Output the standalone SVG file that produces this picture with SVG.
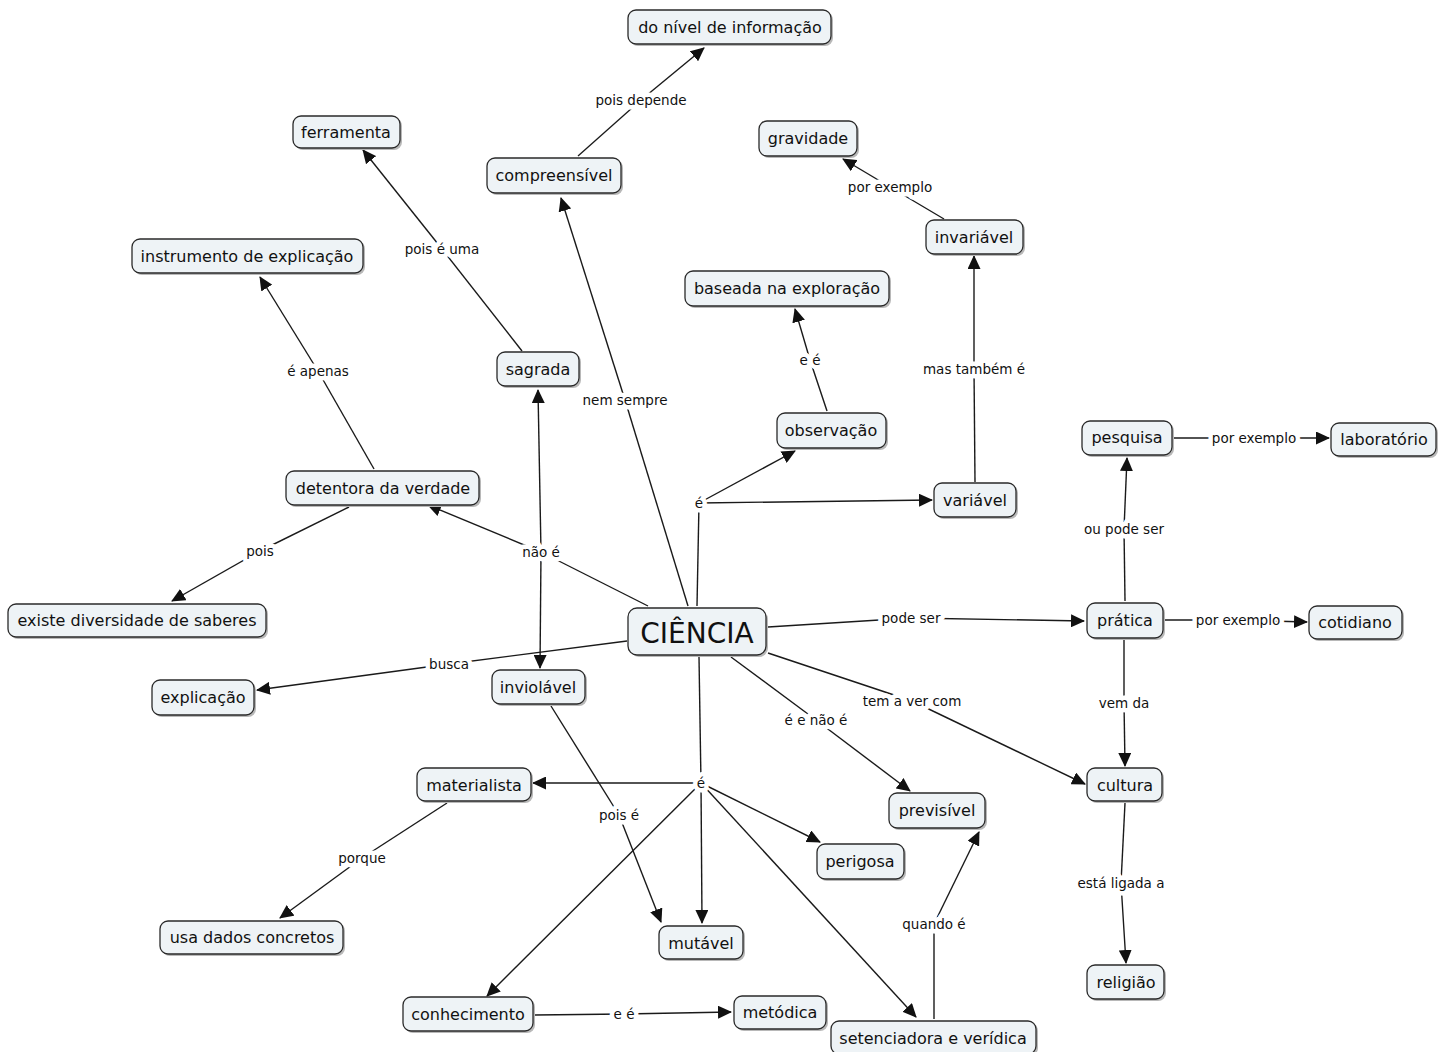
<svg xmlns="http://www.w3.org/2000/svg" width="1449" height="1052" viewBox="0 0 1449 1052">
<style>
.n rect.b{fill:#eef3f6;stroke:#2a2a2a;stroke-width:1.3}
.n rect.s{fill:#b8b8b8}
.n text{font-family:"DejaVu Sans",Verdana,sans-serif;font-size:16px;fill:#111;text-anchor:middle;dominant-baseline:central}
#ciencia text{font-size:28px}
.c line,.c polyline{stroke:#1a1a1a;stroke-width:1.4;fill:none}
.l{font-family:"DejaVu Sans",Verdana,sans-serif;font-size:13.5px;fill:#111;text-anchor:middle;dominant-baseline:central;stroke:#fff;stroke-width:9;paint-order:stroke;stroke-linejoin:round}
</style>
<defs>
<marker id="a" markerUnits="userSpaceOnUse" markerWidth="14" markerHeight="13" refX="13" refY="6.5" orient="auto">
<path d="M0,0 L14,6.5 L0,13 Z" fill="#111"/>
</marker>
</defs>
<rect width="1449" height="1052" fill="#fff"/>
<g class="c">
<line x1="688" y1="606" x2="625" y2="400"/>
<line x1="625" y1="400" x2="561" y2="198" marker-end="url(#a)"/>
<line x1="578" y1="156" x2="641" y2="100"/>
<line x1="641" y1="100" x2="704" y2="48" marker-end="url(#a)"/>
<line x1="522" y1="351" x2="442" y2="249"/>
<line x1="442" y1="249" x2="363" y2="150" marker-end="url(#a)"/>
<line x1="374" y1="469" x2="318" y2="371"/>
<line x1="318" y1="371" x2="260" y2="277" marker-end="url(#a)"/>
<line x1="349" y1="507" x2="260" y2="551"/>
<line x1="260" y1="551" x2="172" y2="601" marker-end="url(#a)"/>
<line x1="648" y1="606" x2="541" y2="552"/>
<line x1="541" y1="552" x2="428" y2="505" marker-end="url(#a)"/>
<line x1="541" y1="552" x2="538" y2="390" marker-end="url(#a)"/>
<line x1="541" y1="552" x2="540" y2="668" marker-end="url(#a)"/>
<line x1="627" y1="641" x2="449" y2="664"/>
<line x1="449" y1="664" x2="257" y2="690" marker-end="url(#a)"/>
<line x1="697" y1="606" x2="699" y2="503"/>
<line x1="699" y1="503" x2="795" y2="451" marker-end="url(#a)"/>
<line x1="699" y1="503" x2="932" y2="500" marker-end="url(#a)"/>
<line x1="827" y1="411" x2="810" y2="360"/>
<line x1="810" y1="360" x2="795" y2="309" marker-end="url(#a)"/>
<line x1="975" y1="482" x2="974" y2="369"/>
<line x1="974" y1="369" x2="974" y2="256" marker-end="url(#a)"/>
<line x1="944" y1="219" x2="890" y2="187"/>
<line x1="890" y1="187" x2="843" y2="159" marker-end="url(#a)"/>
<line x1="768" y1="627" x2="911" y2="618"/>
<line x1="911" y1="618" x2="1084" y2="621" marker-end="url(#a)"/>
<line x1="1125" y1="601" x2="1124" y2="529"/>
<line x1="1124" y1="529" x2="1127" y2="458" marker-end="url(#a)"/>
<line x1="1174" y1="438" x2="1254" y2="438"/>
<line x1="1254" y1="438" x2="1329" y2="438" marker-end="url(#a)"/>
<line x1="1165" y1="620" x2="1238" y2="620"/>
<line x1="1238" y1="620" x2="1307" y2="622" marker-end="url(#a)"/>
<line x1="1124" y1="640" x2="1124" y2="703"/>
<line x1="1124" y1="703" x2="1125" y2="766" marker-end="url(#a)"/>
<line x1="768" y1="653" x2="912" y2="701"/>
<line x1="912" y1="701" x2="1085" y2="784" marker-end="url(#a)"/>
<line x1="1125" y1="803" x2="1121" y2="883"/>
<line x1="1121" y1="883" x2="1126" y2="963" marker-end="url(#a)"/>
<line x1="731" y1="657" x2="816" y2="720"/>
<line x1="816" y1="720" x2="910" y2="791" marker-end="url(#a)"/>
<line x1="934" y1="1019" x2="934" y2="924"/>
<line x1="934" y1="924" x2="979" y2="832" marker-end="url(#a)"/>
<line x1="551" y1="706" x2="619" y2="815"/>
<line x1="619" y1="815" x2="661" y2="922" marker-end="url(#a)"/>
<line x1="699" y1="657" x2="701" y2="783"/>
<line x1="701" y1="783" x2="533" y2="783" marker-end="url(#a)"/>
<line x1="701" y1="783" x2="820" y2="842" marker-end="url(#a)"/>
<line x1="701" y1="783" x2="702" y2="923" marker-end="url(#a)"/>
<line x1="701" y1="783" x2="487" y2="996" marker-end="url(#a)"/>
<line x1="701" y1="783" x2="916" y2="1017" marker-end="url(#a)"/>
<line x1="447" y1="803" x2="362" y2="858"/>
<line x1="362" y1="858" x2="280" y2="918" marker-end="url(#a)"/>
<line x1="535" y1="1015" x2="624" y2="1014"/>
<line x1="624" y1="1014" x2="731" y2="1012" marker-end="url(#a)"/>
</g>
<g id="labels">
<text class="l" x="625" y="400">nem sempre</text>
<text class="l" x="641" y="100">pois depende</text>
<text class="l" x="442" y="249">pois é uma</text>
<text class="l" x="318" y="371">é apenas</text>
<text class="l" x="260" y="551">pois</text>
<text class="l" x="541" y="552">não é</text>
<text class="l" x="449" y="664">busca</text>
<text class="l" x="699" y="503">é</text>
<text class="l" x="810" y="360">e é</text>
<text class="l" x="974" y="369">mas também é</text>
<text class="l" x="890" y="187">por exemplo</text>
<text class="l" x="911" y="618">pode ser</text>
<text class="l" x="1124" y="529">ou pode ser</text>
<text class="l" x="1254" y="438">por exemplo</text>
<text class="l" x="1238" y="620">por exemplo</text>
<text class="l" x="1124" y="703">vem da</text>
<text class="l" x="912" y="701">tem a ver com</text>
<text class="l" x="1121" y="883">está ligada a</text>
<text class="l" x="816" y="720">é e não é</text>
<text class="l" x="934" y="924">quando é</text>
<text class="l" x="619" y="815">pois é</text>
<text class="l" x="701" y="783">é</text>
<text class="l" x="362" y="858">porque</text>
<text class="l" x="624" y="1014">e é</text>
</g>
<g id="nivel" class="n"><rect class="s" x="630" y="12" width="203" height="34" rx="8"/><rect class="b" x="628" y="10" width="203" height="34" rx="8"/><text x="730" y="27">do nível de informação</text></g>
<g id="ferramenta" class="n"><rect class="s" x="295" y="118" width="107" height="32" rx="8"/><rect class="b" x="293" y="116" width="107" height="32" rx="8"/><text x="346" y="132">ferramenta</text></g>
<g id="compreensivel" class="n"><rect class="s" x="489" y="160" width="134" height="35" rx="8"/><rect class="b" x="487" y="158" width="134" height="35" rx="8"/><text x="554" y="175">compreensível</text></g>
<g id="gravidade" class="n"><rect class="s" x="761" y="123" width="98" height="35" rx="8"/><rect class="b" x="759" y="121" width="98" height="35" rx="8"/><text x="808" y="138">gravidade</text></g>
<g id="invariavel" class="n"><rect class="s" x="928" y="222" width="97" height="34" rx="8"/><rect class="b" x="926" y="220" width="97" height="34" rx="8"/><text x="974" y="237">invariável</text></g>
<g id="instrumento" class="n"><rect class="s" x="134" y="241" width="231" height="34" rx="8"/><rect class="b" x="132" y="239" width="231" height="34" rx="8"/><text x="247" y="256">instrumento de explicação</text></g>
<g id="baseada" class="n"><rect class="s" x="687" y="273" width="204" height="35" rx="8"/><rect class="b" x="685" y="271" width="204" height="35" rx="8"/><text x="787" y="288">baseada na exploração</text></g>
<g id="sagrada" class="n"><rect class="s" x="499" y="354" width="82" height="34" rx="8"/><rect class="b" x="497" y="352" width="82" height="34" rx="8"/><text x="538" y="369">sagrada</text></g>
<g id="observacao" class="n"><rect class="s" x="779" y="415" width="109" height="35" rx="8"/><rect class="b" x="777" y="413" width="109" height="35" rx="8"/><text x="831" y="430">observação</text></g>
<g id="pesquisa" class="n"><rect class="s" x="1084" y="423" width="90" height="34" rx="8"/><rect class="b" x="1082" y="421" width="90" height="34" rx="8"/><text x="1127" y="437">pesquisa</text></g>
<g id="laboratorio" class="n"><rect class="s" x="1333" y="425" width="105" height="33" rx="8"/><rect class="b" x="1331" y="423" width="105" height="33" rx="8"/><text x="1384" y="439">laboratório</text></g>
<g id="detentora" class="n"><rect class="s" x="288" y="473" width="193" height="34" rx="8"/><rect class="b" x="286" y="471" width="193" height="34" rx="8"/><text x="383" y="488">detentora da verdade</text></g>
<g id="variavel" class="n"><rect class="s" x="936" y="485" width="82" height="34" rx="8"/><rect class="b" x="934" y="483" width="82" height="34" rx="8"/><text x="975" y="500">variável</text></g>
<g id="existe" class="n"><rect class="s" x="10" y="606" width="258" height="33" rx="8"/><rect class="b" x="8" y="604" width="258" height="33" rx="8"/><text x="137" y="620">existe diversidade de saberes</text></g>
<g id="ciencia" class="n"><rect class="s" x="630" y="610" width="138" height="47" rx="9"/><rect class="b" x="628" y="608" width="138" height="47" rx="9"/><text x="697" y="633">CIÊNCIA</text></g>
<g id="pratica" class="n"><rect class="s" x="1089" y="605" width="76" height="35" rx="8"/><rect class="b" x="1087" y="603" width="76" height="35" rx="8"/><text x="1125" y="620">prática</text></g>
<g id="cotidiano" class="n"><rect class="s" x="1311" y="608" width="93" height="33" rx="8"/><rect class="b" x="1309" y="606" width="93" height="33" rx="8"/><text x="1355" y="622">cotidiano</text></g>
<g id="explicacao" class="n"><rect class="s" x="154" y="682" width="102" height="35" rx="8"/><rect class="b" x="152" y="680" width="102" height="35" rx="8"/><text x="203" y="697">explicação</text></g>
<g id="inviolavel" class="n"><rect class="s" x="494" y="672" width="93" height="34" rx="8"/><rect class="b" x="492" y="670" width="93" height="34" rx="8"/><text x="538" y="687">inviolável</text></g>
<g id="materialista" class="n"><rect class="s" x="419" y="770" width="114" height="33" rx="8"/><rect class="b" x="417" y="768" width="114" height="33" rx="8"/><text x="474" y="785">materialista</text></g>
<g id="previsivel" class="n"><rect class="s" x="891" y="795" width="96" height="35" rx="8"/><rect class="b" x="889" y="793" width="96" height="35" rx="8"/><text x="937" y="810">previsível</text></g>
<g id="cultura" class="n"><rect class="s" x="1089" y="770" width="75" height="33" rx="8"/><rect class="b" x="1087" y="768" width="75" height="33" rx="8"/><text x="1125" y="785">cultura</text></g>
<g id="perigosa" class="n"><rect class="s" x="819" y="846" width="87" height="35" rx="8"/><rect class="b" x="817" y="844" width="87" height="35" rx="8"/><text x="860" y="861">perigosa</text></g>
<g id="usadados" class="n"><rect class="s" x="162" y="923" width="183" height="33" rx="8"/><rect class="b" x="160" y="921" width="183" height="33" rx="8"/><text x="252" y="937">usa dados concretos</text></g>
<g id="mutavel" class="n"><rect class="s" x="661" y="928" width="84" height="33" rx="8"/><rect class="b" x="659" y="926" width="84" height="33" rx="8"/><text x="701" y="943">mutável</text></g>
<g id="religiao" class="n"><rect class="s" x="1089" y="967" width="77" height="34" rx="8"/><rect class="b" x="1087" y="965" width="77" height="34" rx="8"/><text x="1126" y="982">religião</text></g>
<g id="conhecimento" class="n"><rect class="s" x="405" y="999" width="130" height="34" rx="8"/><rect class="b" x="403" y="997" width="130" height="34" rx="8"/><text x="468" y="1014">conhecimento</text></g>
<g id="metodica" class="n"><rect class="s" x="736" y="998" width="92" height="33" rx="8"/><rect class="b" x="734" y="996" width="92" height="33" rx="8"/><text x="780" y="1012">metódica</text></g>
<g id="setenciadora" class="n"><rect class="s" x="833" y="1023" width="205" height="33" rx="8"/><rect class="b" x="831" y="1021" width="205" height="33" rx="8"/><text x="933" y="1038">setenciadora e verídica</text></g>
</svg>
